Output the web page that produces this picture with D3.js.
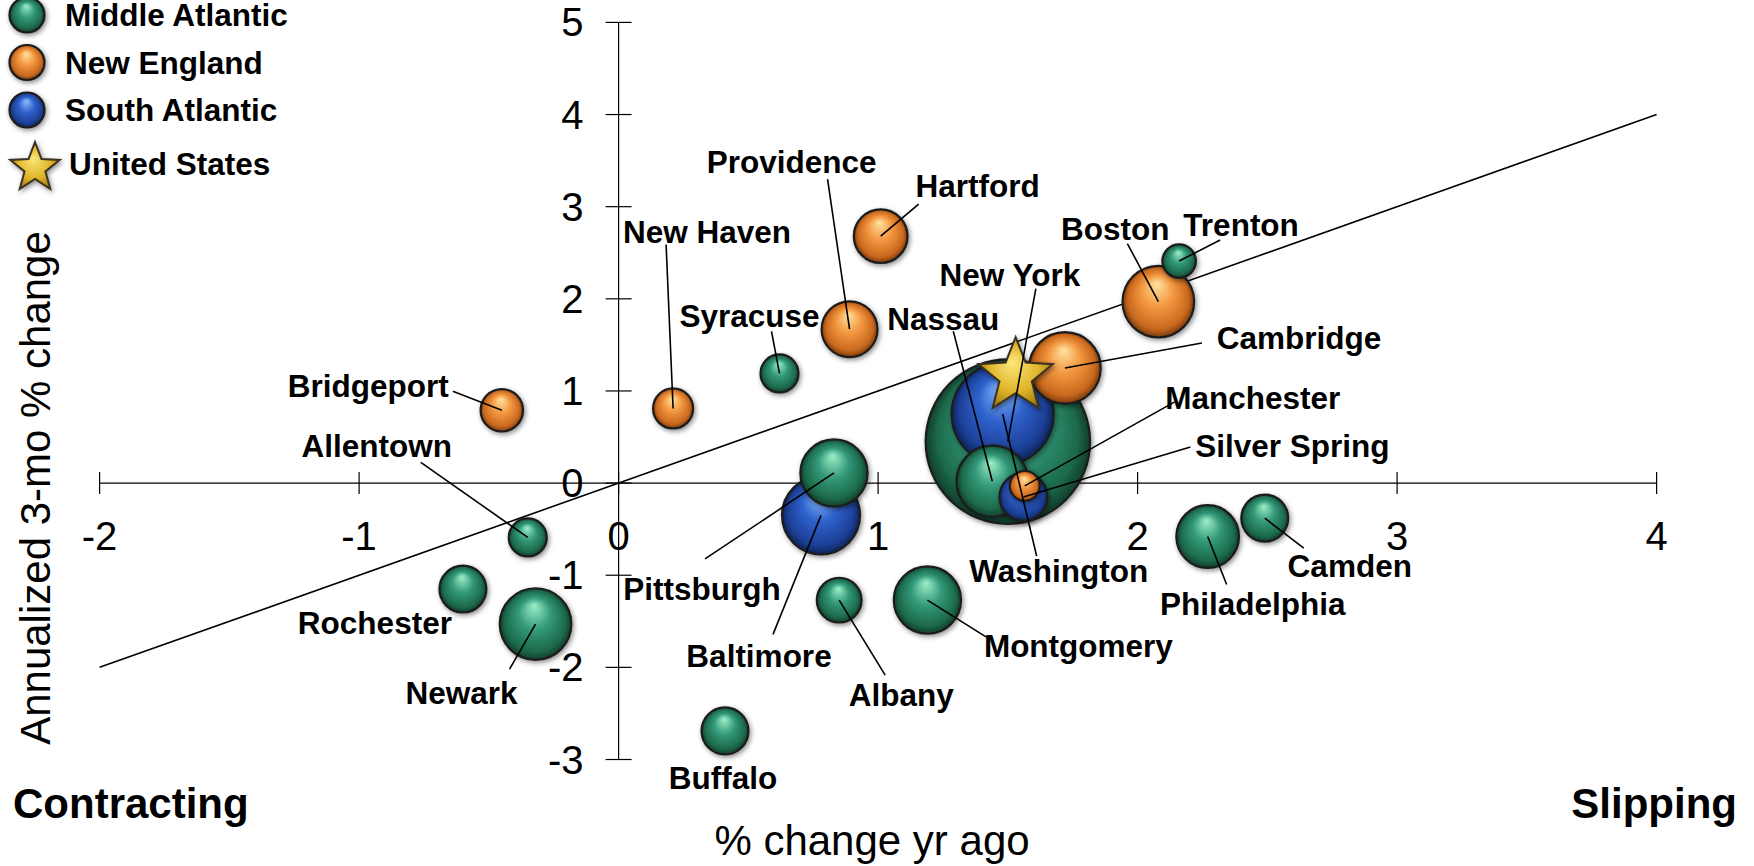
<!DOCTYPE html>
<html>
<head>
<meta charset="utf-8">
<script src="https://cdn.jsdelivr.net/npm/d3@7"></script>
<style>
  html, body { margin: 0; padding: 0; background: #fff; }
  svg { display: block; }
  text { font-family: "Liberation Sans", Arial, Helvetica, sans-serif; }
</style>
</head>
<body>
<svg id="chart" width="1754" height="866"></svg>
<script>
// ---------------- data ----------------
const cities   = ["Bridgeport","Allentown","Rochester","Newark","New Haven","Syracuse","Providence","Hartford","Pittsburgh","Baltimore","Albany","Buffalo","Montgomery","New York","Washington","Nassau","Silver Spring","Manchester","Cambridge","Boston","Trenton","Philadelphia","Camden"];
const regions  = ["New England","Middle Atlantic","Middle Atlantic","Middle Atlantic","New England","Middle Atlantic","New England","New England","Middle Atlantic","South Atlantic","Middle Atlantic","Middle Atlantic","Middle Atlantic","Middle Atlantic","South Atlantic","Middle Atlantic","South Atlantic","New England","New England","New England","Middle Atlantic","Middle Atlantic","Middle Atlantic"];
const yrAgo    = [-0.45,-0.35,-0.60,-0.32, 0.21, 0.62, 0.89, 1.01, 0.83, 0.78, 0.85, 0.41, 1.19, 1.50, 1.48, 1.44, 1.56, 1.565, 1.72, 2.08, 2.16, 2.27, 2.49];
const threeMo  = [ 0.79,-0.59,-1.15,-1.53, 0.81, 1.19, 1.67, 2.68, 0.11,-0.35,-1.27,-2.69,-1.27, 0.45, 0.75, 0.02,-0.15,-0.03, 1.25, 1.97, 2.41,-0.58,-0.38];
const sizes    = [ 450, 360, 550, 1280, 400, 360, 780, 720, 1130, 1520, 500, 550, 1130, 6750, 2600, 1280, 575, 225, 1280, 1280, 280, 980, 550];
const usPoint  = { name: "United States", x: 1.53, y: 1.16 };
const legendItems = ["Middle Atlantic","New England","South Atlantic"];
const xTicks = [-2,-1,0,1,2,3,4];
const yTicks = [-3,-2,-1,0,1,2,3,4,5];
const refLine = [[-2,-2],[4,4]];

// label layout (pixel offsets from bubble centre): [label dx, label dy, anchor, leader dx, leader dy]
const labelLayout = {
  "Bridgeport":   [-53,-24,"end",-49,-19],
  "Allentown":    [-151,-91,"middle",-107,-75],
  "Rochester":    [-88,34,"middle",null,null],
  "Newark":       [-74,69,"middle",-26,45],
  "New Haven":    [34,-176,"middle",-7,-164],
  "Syracuse":     [-30,-57,"middle",-8,-42],
  "Providence":   [-58,-167,"middle",-22,-150],
  "Hartford":     [97,-50,"middle",38,-32],
  "Pittsburgh":   [-132,116,"middle",-129,86],
  "Baltimore":    [-62,141,"middle",-48,119],
  "Albany":       [62,95,"middle",46,75],
  "Buffalo":      [-2,47,"middle",null,null],
  "Montgomery":   [151,46,"middle",59,37],
  "New York":     [2,-167,"middle",28,-153],
  "Washington":   [56,157,"middle",34,142],
  "Nassau":       [-49,-162,"middle",-39,-150],
  "Silver Spring":[269,-51,"middle",167,-50],
  "Manchester":   [228,-88,"middle",150,-84],
  "Cambridge":    [234,-30,"middle",137,-25],
  "Boston":       [-43,-73,"middle",-31,-58],
  "Trenton":      [62,-36,"middle",41,-21],
  "Philadelphia": [45,67,"middle",19,48],
  "Camden":       [85,48,"middle",39,30]
};

const palette = {
  "Middle Atlantic": ["#9ef0c8","#33997a","#1c6a4a","#0f3d2a"],
  "New England":     ["#ffe3a0","#f3973f","#c8681e","#7a3a0a"],
  "South Atlantic":  ["#8cbcff","#2f62cc","#1c3f96","#0c2358"]
};

// ---------------- chart ----------------
const svg = d3.select("#chart");
const x = d3.scaleLinear().domain([-2, 4]).range([99.6, 1656.6]);
const y = d3.scaleLinear().domain([-3, 5]).range([759.5, 22.4]);
const r = d3.scaleSqrt().domain([0, 6750]).range([0, 82.2]);

const defs = svg.append("defs");
Object.entries(palette).forEach(([k, c], i) => {
  const g = defs.append("radialGradient").attr("id", "g" + i)
    .attr("cx", "50%").attr("cy", "50%").attr("r", "50%").attr("fx", "48%").attr("fy", "24%");
  g.append("stop").attr("offset", "0%").attr("stop-color", c[0]);
  g.append("stop").attr("offset", "45%").attr("stop-color", c[1]);
  g.append("stop").attr("offset", "85%").attr("stop-color", c[2]);
  g.append("stop").attr("offset", "100%").attr("stop-color", c[3]);
});
const starGrad = defs.append("radialGradient").attr("id", "gstar")
  .attr("cx", "50%").attr("cy", "50%").attr("r", "55%").attr("fx", "45%").attr("fy", "35%");
starGrad.append("stop").attr("offset", "0%").attr("stop-color", "#fbe77a");
starGrad.append("stop").attr("offset", "60%").attr("stop-color", "#e0b52a");
starGrad.append("stop").attr("offset", "100%").attr("stop-color", "#9a7410");
const shadow = defs.append("filter").attr("id", "shadow").attr("x", "-30%").attr("y", "-30%").attr("width", "160%").attr("height", "160%");
shadow.append("feDropShadow").attr("dx", 1.5).attr("dy", 2).attr("stdDeviation", 2.5).attr("flood-color", "#000").attr("flood-opacity", 0.45);

const gradId = reg => "url(#g" + Object.keys(palette).indexOf(reg) + ")";

// axes
const axisColor = "#000";
const x0 = x(0), y0 = y(0);
svg.append("line").attr("x1", x(-2)).attr("x2", x(4)).attr("y1", y0).attr("y2", y0).attr("stroke", axisColor).attr("stroke-width", 1.2);
svg.append("line").attr("x1", x0).attr("x2", x0).attr("y1", y(5)).attr("y2", y(-3)).attr("stroke", axisColor).attr("stroke-width", 1.2);
svg.selectAll(".xt").data(xTicks).enter().append("line")
  .attr("x1", d => x(d)).attr("x2", d => x(d)).attr("y1", y0 - 11).attr("y2", y0 + 11)
  .attr("stroke", axisColor).attr("stroke-width", 1.2);
svg.selectAll(".yt").data(yTicks).enter().append("line")
  .attr("x1", x0 - 13).attr("x2", x0 + 13).attr("y1", d => y(d)).attr("y2", d => y(d))
  .attr("stroke", axisColor).attr("stroke-width", 1.2);
svg.selectAll(".xl").data(xTicks).enter().append("text")
  .attr("x", d => x(d)).attr("y", y0 + 67).attr("text-anchor", "middle")
  .attr("font-size", 40).text(d => d);
svg.selectAll(".yl").data(yTicks).enter().append("text")
  .attr("x", x0 - 35).attr("y", d => y(d) + 14).attr("text-anchor", "end")
  .attr("font-size", 40).text(d => d);

// reference line
svg.append("line").attr("x1", x(refLine[0][0])).attr("y1", y(refLine[0][1]))
  .attr("x2", x(refLine[1][0])).attr("y2", y(refLine[1][1]))
  .attr("stroke", "#000").attr("stroke-width", 1.6);

// bubbles
const data = cities.map((c, i) => ({ name: c, region: regions[i], x: yrAgo[i], y: threeMo[i], size: sizes[i] }));
const sorted = data.slice().sort((a, b) => b.size - a.size);
svg.append("g").selectAll("circle").data(sorted).enter().append("circle")
  .attr("cx", d => x(d.x)).attr("cy", d => y(d.y)).attr("r", d => r(d.size))
  .attr("fill", d => gradId(d.region)).attr("stroke", "#1e1e1e").attr("stroke-width", 2.2)
  .attr("filter", "url(#shadow)");

// star
function starPath(R, ri) {
  const pts = [];
  for (let k = 0; k < 10; k++) {
    const a = -Math.PI / 2 + k * Math.PI / 5;
    const rr = k % 2 === 0 ? R : ri;
    pts.push([rr * Math.cos(a), rr * Math.sin(a)]);
  }
  return d3.line()(pts) + "Z";
}
svg.append("path").attr("d", starPath(39, 17))
  .attr("transform", `translate(${x(usPoint.x)},${y(usPoint.y)})`)
  .attr("fill", "url(#gstar)").attr("stroke", "#3a3220").attr("stroke-width", 2).attr("filter", "url(#shadow)");

// leader lines
svg.append("g").selectAll("line").data(data.filter(d => labelLayout[d.name][3] !== null)).enter().append("line")
  .attr("x1", d => x(d.x) + labelLayout[d.name][3]).attr("y1", d => y(d.y) + labelLayout[d.name][4])
  .attr("x2", d => x(d.x)).attr("y2", d => y(d.y))
  .attr("stroke", "#000").attr("stroke-width", 1.6);

// labels
svg.append("g").selectAll("text").data(data).enter().append("text")
  .attr("x", d => x(d.x) + labelLayout[d.name][0]).attr("y", d => y(d.y) + labelLayout[d.name][1])
  .attr("dy", "0.35em").attr("text-anchor", d => labelLayout[d.name][2])
  .attr("font-size", 31.5).attr("font-weight", "bold").text(d => d.name);

// legend
const lg = svg.append("g");
legendItems.forEach((k, i) => {
  const cy = 15 + i * 47.5;
  lg.append("circle").attr("cx", 27).attr("cy", cy).attr("r", 17.5)
    .attr("fill", gradId(k)).attr("stroke", "#1e1e1e").attr("stroke-width", 2.2).attr("filter", "url(#shadow)");
  lg.append("text").attr("x", 65).attr("y", cy).attr("dy", "0.35em")
    .attr("font-size", 31.5).attr("font-weight", "bold").text(k);
});
lg.append("path").attr("d", starPath(26, 11)).attr("transform", "translate(35,168)")
  .attr("fill", "url(#gstar)").attr("stroke", "#3a3220").attr("stroke-width", 2).attr("filter", "url(#shadow)");
lg.append("text").attr("x", 69).attr("y", 164).attr("dy", "0.35em")
  .attr("font-size", 31.5).attr("font-weight", "bold").text(usPoint.name);

// axis titles & corner labels
svg.append("text").attr("x", 872).attr("y", 855).attr("text-anchor", "middle").attr("font-size", 42).text("% change yr ago");
svg.append("text").attr("transform", "translate(50,488) rotate(-90)").attr("text-anchor", "middle").attr("font-size", 42).text("Annualized 3-mo % change");
svg.append("text").attr("x", 13).attr("y", 818).attr("font-size", 42).attr("font-weight", "bold").text("Contracting");
svg.append("text").attr("x", 1737).attr("y", 818).attr("text-anchor", "end").attr("font-size", 42).attr("font-weight", "bold").text("Slipping");
</script>
</body>
</html>
